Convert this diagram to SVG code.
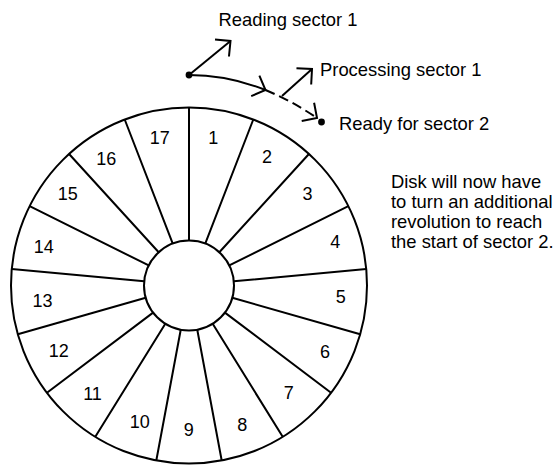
<svg xmlns="http://www.w3.org/2000/svg" width="558" height="466" viewBox="0 0 558 466">
  <style>
    .ln { fill: none; stroke: #000; stroke-width: 2; stroke-linecap: butt; }
    .dash { stroke-dasharray: 10 5; }
    .txt { font-family: "Liberation Sans", Arial, sans-serif; font-size: 18.4px; fill: #000; }
    .num { text-anchor: middle; font-size: 18px; }
  </style>
  <defs>
    <!-- open right-angle arrowhead -->
    <marker id="vhead" markerUnits="userSpaceOnUse" viewBox="-14 -14 16 28" refX="0" refY="0" markerWidth="16" markerHeight="28" orient="auto" overflow="visible">
      <path d="M-11,-11 L0,0 L-11,11" fill="none" stroke="#000" stroke-width="2"/>
    </marker>
  </defs>
  <rect width="558" height="466" fill="#fff"/>

  <!-- disk with 17 sectors -->
  <g id="disk">
    <circle cx="189" cy="285.5" r="178" class="ln" fill="#fff"/>
    <path class="ln" d="M189,240.5 L189,107.5
      M205.25,243.54 L253.29,119.51
      M219.32,252.25 L308.92,153.96
      M229.28,265.44 L348.35,206.17
      M233.81,281.35 L366.24,269.07
      M232.28,297.82 L360.20,334.22
      M224.91,312.62 L331.04,392.76
      M212.69,323.76 L282.70,436.84
      M197.27,329.74 L221.70,460.47
      M180.73,329.74 L156.30,460.47
      M165.31,323.76 L95.30,436.84
      M153.09,312.62 L46.96,392.76
      M145.72,297.82 L17.80,334.22
      M144.19,281.35 L11.76,269.07
      M148.72,265.44 L29.65,206.17
      M158.68,252.25 L69.08,153.96
      M172.75,243.54 L124.71,119.51"/>
    <circle cx="189" cy="285.5" r="45" class="ln" fill="#fff"/>
    <g class="txt num">
      <text x="213.3" y="144">1</text>
      <text x="267" y="163.3">2</text>
      <text x="307.5" y="200">3</text>
      <text x="335.3" y="248.3">4</text>
      <text x="340.7" y="303.3">5</text>
      <text x="325" y="358.3">6</text>
      <text x="288.7" y="398.7">7</text>
      <text x="242.3" y="430.7">8</text>
      <text x="188.7" y="436">9</text>
      <text x="139.7" y="428.3">10</text>
      <text x="92.5" y="400">11</text>
      <text x="58.7" y="357.3">12</text>
      <text x="42.5" y="306.7">13</text>
      <text x="43.8" y="252.7">14</text>
      <text x="67.8" y="200">15</text>
      <text x="106.3" y="165">16</text>
      <text x="159.7" y="144">17</text>
    </g>
  </g>

  <!-- head positions -->
  <g id="start-point">
    <circle cx="189" cy="75" r="3.4" fill="#000"/>
  </g>
  <g id="end-point">
    <circle cx="321.5" cy="122" r="3.4" fill="#000"/>
  </g>

  <!-- connectors -->
  <g id="connectors">
    <path class="ln" d="M189,75 L230.5,41" marker-end="url(#vhead)"/>
    <path class="ln" d="M189,75 Q228,75 265.5,90" marker-end="url(#vhead)"/>
    <path class="ln dash" d="M265.5,90 Q292,101 317,118" marker-end="url(#vhead)"/>
    <path class="ln" d="M282,96 L312,69" marker-end="url(#vhead)"/>
  </g>

  <!-- captions -->
  <g id="label-reading">
    <text class="txt" x="218.5" y="26">Reading sector 1</text>
  </g>
  <g id="label-processing">
    <text class="txt" x="320" y="76">Processing sector 1</text>
  </g>
  <g id="label-ready">
    <text class="txt" x="339" y="130">Ready for sector 2</text>
  </g>
  <g id="note">
    <text class="txt" x="391">
      <tspan x="391" y="188">Disk will now have</tspan>
      <tspan x="391" y="208">to turn an additional</tspan>
      <tspan x="391" y="228">revolution to reach</tspan>
      <tspan x="391" y="248">the start of sector 2.</tspan>
    </text>
  </g>
</svg>
